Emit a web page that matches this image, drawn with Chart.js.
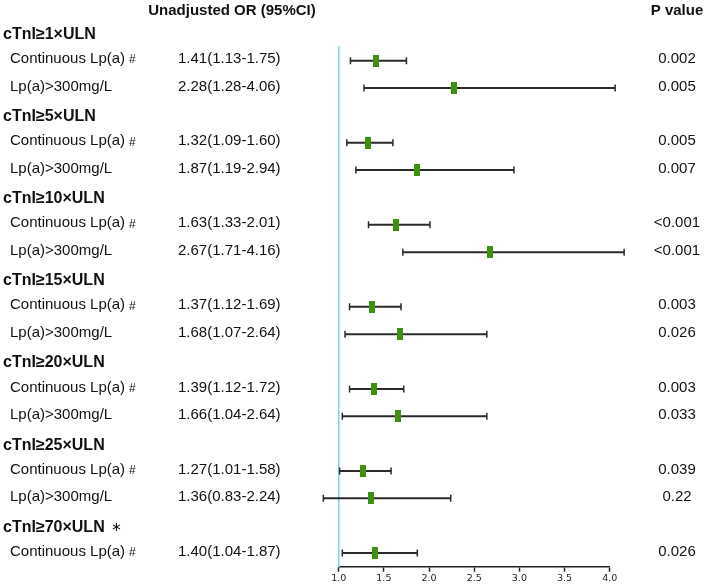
<!DOCTYPE html>
<html>
<head>
<meta charset="utf-8">
<script src="https://cdn.jsdelivr.net/npm/chart.js@4"></script>
<style>
    html, body { margin: 0; padding: 0; background: #fff; }
    #wrap { width: 709px; height: 586px; position: relative; }
</style>
</head>
<body>
<div id="wrap"><canvas id="forestChart"></canvas></div>
<script>
// Nhóm ngưỡng cTnI và các dòng trong mỗi nhóm
var groupNames = ['cTnI≥1×ULN', 'cTnI≥5×ULN', 'cTnI≥10×ULN', 'cTnI≥15×ULN', 'cTnI≥20×ULN', 'cTnI≥25×ULN', 'cTnI≥70×ULN'];
var groupMarks = ['', '', '', '', '', '', '∗'];
var rowGroup = [0, 0, 1, 1, 2, 2, 3, 3, 4, 4, 5, 5, 6];
var rowNames = ['Continuous Lp(a)', 'Lp(a)>300mg/L', 'Continuous Lp(a)', 'Lp(a)>300mg/L',
    'Continuous Lp(a)', 'Lp(a)>300mg/L', 'Continuous Lp(a)', 'Lp(a)>300mg/L',
    'Continuous Lp(a)', 'Lp(a)>300mg/L', 'Continuous Lp(a)', 'Lp(a)>300mg/L', 'Continuous Lp(a)'];
var rowMarks = ['#', '', '#', '', '#', '', '#', '', '#', '', '#', '', '#'];

// Giá trị OR và khoảng tin cậy 95%
var orValues = [1.41, 2.28, 1.32, 1.87, 1.63, 2.67, 1.37, 1.68, 1.39, 1.66, 1.27, 1.36, 1.40];
var ciLow = [1.13, 1.28, 1.09, 1.19, 1.33, 1.71, 1.12, 1.07, 1.12, 1.04, 1.01, 0.83, 1.04];
var ciHigh = [1.75, 4.06, 1.60, 2.94, 2.01, 4.16, 1.69, 2.64, 1.72, 2.64, 1.58, 2.24, 1.87];
var pValues = ['0.002', '0.005', '0.005', '0.007', '<0.001', '<0.001', '0.003', '0.026', '0.003', '0.033', '0.039', '0.22', '0.026'];
var xTicks = [1.0, 1.5, 2.0, 2.5, 3.0, 3.5, 4.0];

// Vị trí dòng (chỉ số) của tiêu đề nhóm và của từng dòng dữ liệu
var groupPos = [];
var rowPos = [];
var line = 0;
groupNames.forEach(function (g, gi) {
    groupPos.push(line);
    line++;
    rowGroup.forEach(function (rg, ri) {
        if (rg === gi) {
            rowPos[ri] = line;
            line++;
        }
    });
});

var FONT = "'Liberation Sans', Arial, sans-serif";

// Ô vuông màu xanh lá cho điểm OR
var marker = document.createElement('canvas');
marker.width = 6;
marker.height = 12;
var mctx = marker.getContext('2d');
mctx.fillStyle = '#3f8f10';
mctx.fillRect(0, 0, 6, 12);

var forestPlugin = {
    id: 'forest',
    beforeDatasetsDraw: function (chart) {
        var ctx = chart.ctx;
        var xs = chart.scales.x, ys = chart.scales.y;
        ctx.save();
        ctx.strokeStyle = '#2b2b2b';
        rowPos.forEach(function (p, i) {
            var y = ys.getPixelForValue(p);
            var x1 = xs.getPixelForValue(ciLow[i]);
            var x2 = xs.getPixelForValue(ciHigh[i]);
            ctx.lineWidth = 2;
            ctx.beginPath();
            ctx.moveTo(x1, y);
            ctx.lineTo(x2, y);
            ctx.stroke();
            ctx.lineWidth = 1.5;
            ctx.beginPath();
            ctx.moveTo(x1, y - 3.5);
            ctx.lineTo(x1, y + 3.5);
            ctx.moveTo(x2, y - 3.5);
            ctx.lineTo(x2, y + 3.5);
            ctx.stroke();
        });
        ctx.restore();
    },
    afterDraw: function (chart) {
        var ctx = chart.ctx;
        var ys = chart.scales.y;
        ctx.save();
        ctx.fillStyle = '#111';
        ctx.textBaseline = 'middle';

        // Tiêu đề cột
        ctx.font = 'bold 15px ' + FONT;
        ctx.textAlign = 'center';
        ctx.fillText('Unadjusted OR (95%CI)', 232, 11);
        ctx.fillText('P value', 677, 11);

        // Tiêu đề nhóm
        ctx.textAlign = 'left';
        groupNames.forEach(function (g, gi) {
            var y = ys.getPixelForValue(groupPos[gi]) + 1.5;
            ctx.font = 'bold 16px ' + FONT;
            ctx.fillText(g, 3, y);
            if (groupMarks[gi]) {
                var w = ctx.measureText(g).width;
                ctx.font = '13px ' + FONT;
                ctx.fillText(groupMarks[gi], 3 + w + 6, y);
            }
        });

        // Các dòng dữ liệu
        rowPos.forEach(function (p, i) {
            var y = ys.getPixelForValue(p) - 1.5;
            ctx.textAlign = 'left';
            ctx.font = '15px ' + FONT;
            ctx.fillText(rowNames[i], 10, y);
            if (rowMarks[i]) {
                var w = ctx.measureText(rowNames[i]).width;
                ctx.font = '12px ' + FONT;
                ctx.fillText(rowMarks[i], 10 + w + 4, y + 1);
            }
            ctx.font = '15px ' + FONT;
            var orText = orValues[i].toFixed(2) + '(' + ciLow[i].toFixed(2) + '-' + ciHigh[i].toFixed(2) + ')';
            ctx.fillText(orText, 178, y);
            ctx.textAlign = 'center';
            ctx.fillText(pValues[i], 677, y);
        });
        ctx.restore();
    }
};

var ctx = document.getElementById('forestChart').getContext('2d');
var forestChart = new Chart(ctx, {
    type: 'scatter',
    data: {
        datasets: [{
            label: 'OR',
            data: rowPos.map(function (p, i) { return { x: orValues[i], y: p }; }),
            pointStyle: marker,
            clip: false
        }]
    },
    options: {
        responsive: true,
        maintainAspectRatio: false,
        animation: false,
        layout: {
            padding: { left: 338.7, right: 99.3, top: 47, bottom: 0 }
        },
        plugins: {
            legend: { display: false },
            tooltip: { enabled: false }
        },
        scales: {
            x: {
                type: 'linear',
                min: 1,
                max: 4,
                afterBuildTicks: function (scale) {
                    scale.ticks = xTicks.map(function (v) { return { value: v }; });
                },
                grid: {
                    display: true,
                    drawOnChartArea: false,
                    drawTicks: true,
                    tickLength: 5,
                    tickWidth: 1.5,
                    tickColor: '#222'
                },
                border: { display: true, color: '#222', width: 1.5 },
                ticks: {
                    padding: 1.5,
                    color: '#222',
                    font: { family: "'DejaVu Sans', Verdana, sans-serif", size: 9.5 },
                    callback: function (v) { return Number(v).toFixed(1); },
                    maxRotation: 0
                },
                afterFit: function (scale) { scale.height = 19.3; }
            },
            y: {
                type: 'linear',
                reverse: true,
                min: 0.5,
                max: 19.5,
                ticks: { display: false },
                grid: { display: false },
                border: { display: true, color: '#7fd3dc', width: 1.5 },
                afterFit: function (scale) { scale.width = 0; }
            }
        }
    },
    plugins: [forestPlugin]
});
</script>
</body>
</html>
